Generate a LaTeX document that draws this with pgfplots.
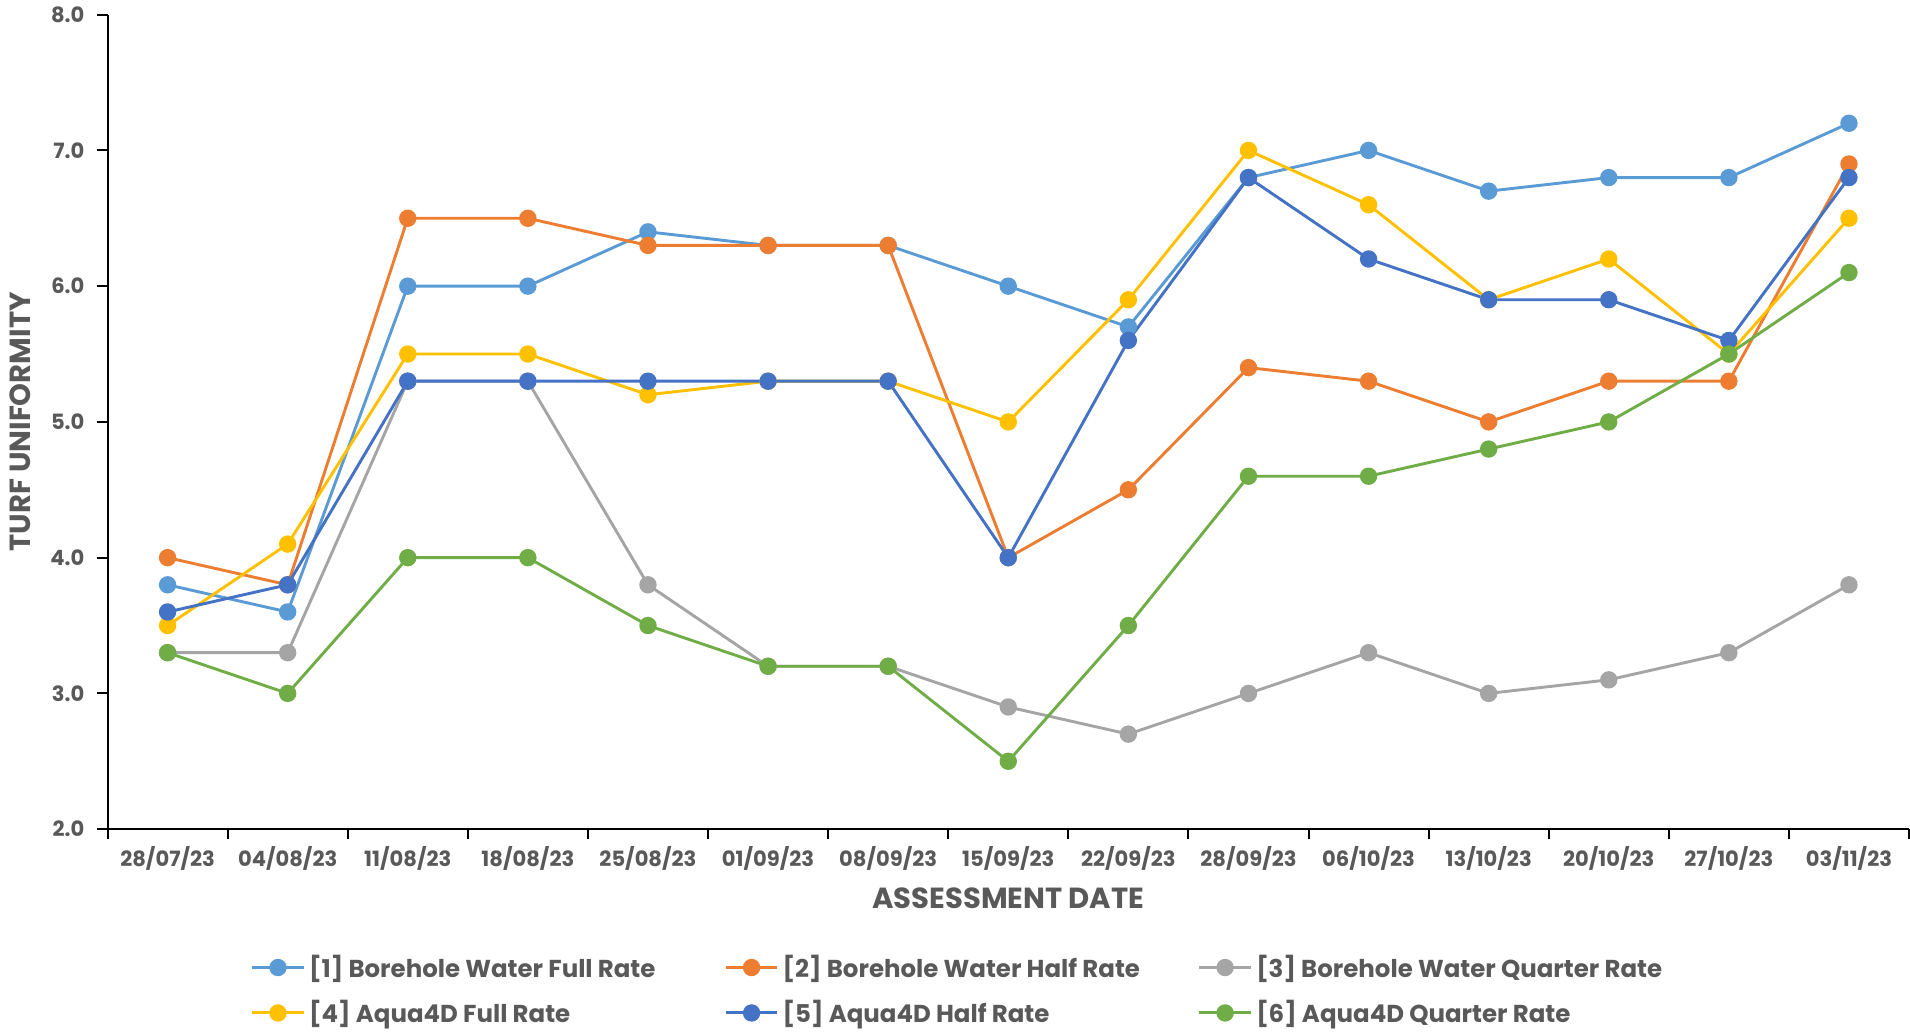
\documentclass[border=0pt]{standalone}
\usepackage{pgfplots}
\pgfplotsset{compat=1.18}
\usepackage{fontspec}
\setmainfont{Poppins}

\definecolor{txt}{HTML}{595959}
\definecolor{sA}{HTML}{5B9BD5}
\definecolor{sB}{HTML}{ED7D31}
\definecolor{sC}{HTML}{A5A5A5}
\definecolor{sD}{HTML}{FFC000}
\definecolor{sE}{HTML}{4472C4}
\definecolor{sF}{HTML}{70AD47}

\newcommand{\ticklbl}{\bfseries\fontsize{10.5}{12.5}\selectfont}
\newcommand{\leglbl}{\bfseries\fontsize{12.2}{14}\selectfont}

\begin{document}
\begin{tikzpicture}
\begin{axis}[
  name=main,
  scale only axis,
  width=898pt, height=406pt,
  xmin=-0.5, xmax=14.5,
  ymin=2, ymax=8,
  axis lines*=left,
  axis line style={black, line width=1pt},
  tick align=outside,
  xtick={0,...,14},
  xticklabels={28/07/23,04/08/23,11/08/23,18/08/23,25/08/23,01/09/23,08/09/23,15/09/23,22/09/23,28/09/23,06/10/23,13/10/23,20/10/23,27/10/23,03/11/23},
  major x tick style={draw=none},
  minor xtick={-0.5,0.5,...,14.5},
  ytick={2,3,...,8},
  every tick/.style={black, line width=1pt},
  major tick length=5pt,
  minor tick length=5pt,
  yticklabel style={xshift=-3pt, /pgf/number format/.cd, fixed, fixed zerofill, precision=1, assume math mode=true},
  tick label style={font=\ticklbl, color=txt},
  xlabel={ASSESSMENT DATE},
  ylabel={TURF UNIFORMITY},
  label style={font=\bfseries\fontsize{14.5}{16}\selectfont, color=txt},
  xlabel style={yshift=-2pt},
  ylabel style={yshift=3pt},
  every axis plot/.append style={line width=1.45pt, mark=*, mark size=3.6pt},
  legend columns=3,
  legend cell align=left,
  legend style={draw=none, fill=none, font=\leglbl, text=txt,
    at={(axis description cs:0.076,-0.144)}, anchor=north west,
    row sep=6pt},
  legend image code/.code={\draw[mark repeat=2,mark phase=2] plot coordinates {(0cm,0cm)(0.45cm,0cm)(0.9cm,0cm)};},
]
\addplot[color=sA, mark options={fill=sA}] coordinates {
  (0,3.8)(1,3.6)(2,6.0)(3,6.0)(4,6.4)(5,6.3)(6,6.3)(7,6.0)(8,5.7)(9,6.8)(10,7.0)(11,6.7)(12,6.8)(13,6.8)(14,7.2)};
\addlegendentry{\makebox[205pt][l]{[1] Borehole Water Full Rate}}
\addplot[color=sB, mark options={fill=sB}] coordinates {
  (0,4.0)(1,3.8)(2,6.5)(3,6.5)(4,6.3)(5,6.3)(6,6.3)(7,4.0)(8,4.5)(9,5.4)(10,5.3)(11,5.0)(12,5.3)(13,5.3)(14,6.9)};
\addlegendentry{\makebox[205pt][l]{[2] Borehole Water Half Rate}}
\addplot[color=sC, mark options={fill=sC}] coordinates {
  (0,3.3)(1,3.3)(2,5.3)(3,5.3)(4,3.8)(5,3.2)(6,3.2)(7,2.9)(8,2.7)(9,3.0)(10,3.3)(11,3.0)(12,3.1)(13,3.3)(14,3.8)};
\addlegendentry{[3] Borehole Water Quarter Rate}
\addplot[color=sD, mark options={fill=sD}] coordinates {
  (0,3.5)(1,4.1)(2,5.5)(3,5.5)(4,5.2)(5,5.3)(6,5.3)(7,5.0)(8,5.9)(9,7.0)(10,6.6)(11,5.9)(12,6.2)(13,5.5)(14,6.5)};
\addlegendentry{\makebox[205pt][l]{[4] Aqua4D Full Rate}}
\addplot[color=sE, mark options={fill=sE}] coordinates {
  (0,3.6)(1,3.8)(2,5.3)(3,5.3)(4,5.3)(5,5.3)(6,5.3)(7,4.0)(8,5.6)(9,6.8)(10,6.2)(11,5.9)(12,5.9)(13,5.6)(14,6.8)};
\addlegendentry{\makebox[205pt][l]{[5] Aqua4D Half Rate}}
\addplot[color=sF, mark options={fill=sF}] coordinates {
  (0,3.3)(1,3.0)(2,4.0)(3,4.0)(4,3.5)(5,3.2)(6,3.2)(7,2.5)(8,3.5)(9,4.6)(10,4.6)(11,4.8)(12,5.0)(13,5.5)(14,6.1)};
\addlegendentry{[6] Aqua4D Quarter Rate}
\end{axis}
% outer margins of the figure
\path ([xshift=-53.6pt]main.south west) ++(0,-101.7pt);
\end{tikzpicture}
\end{document}
